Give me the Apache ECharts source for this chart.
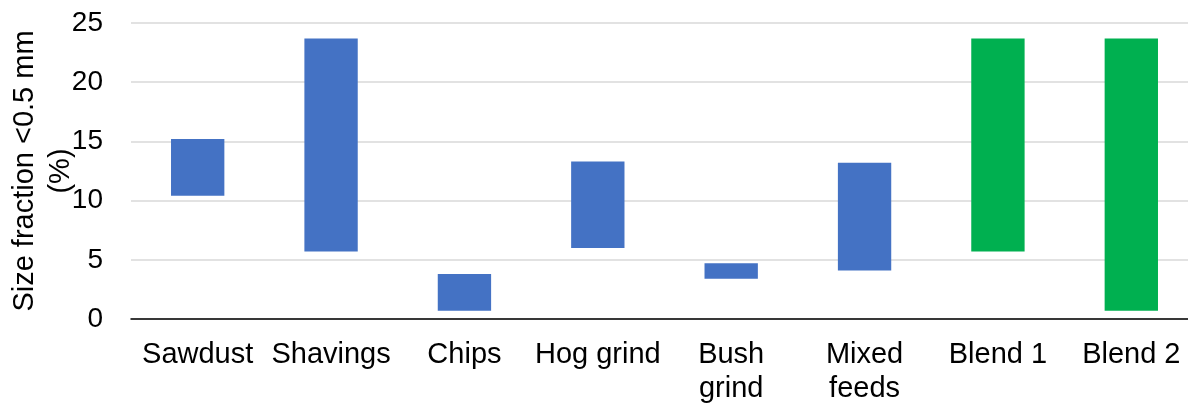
<!DOCTYPE html>
<html>
<head>
<meta charset="utf-8">
<script src="https://cdn.jsdelivr.net/npm/echarts@6/dist/echarts.min.js"></script>
<style>
  html, body { margin: 0; padding: 0; background: #fff; }
  #chart { width: 1188px; height: 405px; }
</style>
</head>
<body>
<div id="chart"></div>
<script>
// Feedstocks and their range of fines (size fraction < 0.5 mm, %)
const categories = ['Sawdust', 'Shavings', 'Chips', 'Hog grind', 'Bush\ngrind', 'Mixed\nfeeds', 'Blend 1', 'Blend 2'];
const lowValues  = [10.4, 5.7, 0.7, 6.0, 3.4, 4.1, 5.7, 0.7];
const highValues = [15.2, 23.7, 3.8, 13.3, 4.7, 13.2, 23.7, 23.7];
const barColors  = ['#4472C4', '#4472C4', '#4472C4', '#4472C4', '#4472C4', '#4472C4', '#00B050', '#00B050'];
const yTicks = { min: 0, max: 25, interval: 5 };

const font = '"Liberation Sans", Arial, sans-serif';

const chart = echarts.init(document.getElementById('chart'), null, { renderer: 'canvas' });

chart.setOption({
  animation: false,
  backgroundColor: '#ffffff',
  grid: {
    left: 131, right: -10, top: 23, bottom: 86,
    containLabel: false, outerBoundsMode: 'none'
  },
  xAxis: {
    type: 'category',
    data: categories,
    axisLine: { show: true, lineStyle: { color: '#000', width: 1.5 } },
    axisTick: { show: false },
    axisLabel: {
      color: '#000', fontFamily: font, fontSize: 29, lineHeight: 34, margin: 19,
      interval: 0
    },
    splitLine: { show: false }
  },
  yAxis: {
    type: 'value',
    min: yTicks.min, max: yTicks.max, interval: yTicks.interval,
    name: 'Size fraction <0.5 mm\n(%)',
    nameLocation: 'middle',
    nameGap: 52,
    nameRotate: 90,
    nameMoveOverlap: false,
    nameTextStyle: { color: '#000', fontFamily: font, fontSize: 29, lineHeight: 36 },
    axisLine: { show: false },
    axisTick: { show: false },
    axisLabel: { color: '#000', fontFamily: font, fontSize: 28, margin: 28 },
    splitLine: { show: true, lineStyle: { color: '#d9d9d9', width: 1.5 } }
  },
  series: [
    {
      // invisible base lifting each bar to its lower bound
      type: 'bar',
      stack: 'range',
      barWidth: '40%',
      silent: true,
      itemStyle: { color: 'transparent' },
      data: lowValues
    },
    {
      type: 'bar',
      stack: 'range',
      barWidth: '40%',
      data: highValues.map((h, i) => ({
        value: +(h - lowValues[i]).toFixed(2),
        itemStyle: { color: barColors[i] }
      }))
    }
  ]
});
</script>
</body>
</html>
